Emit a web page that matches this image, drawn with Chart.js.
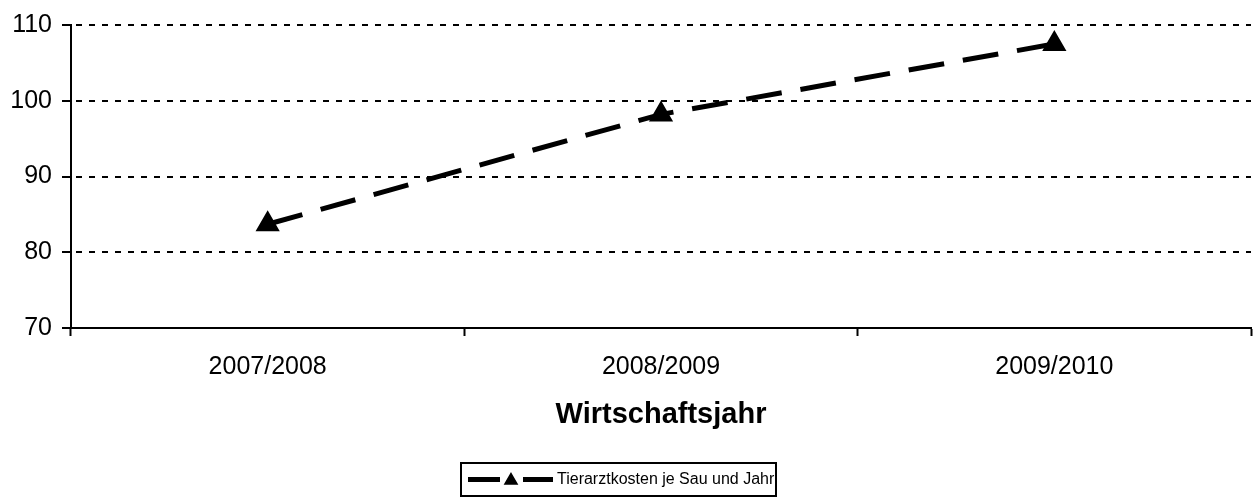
<!DOCTYPE html>
<html>
<head>
<meta charset="utf-8">
<script src="https://cdn.jsdelivr.net/npm/chart.js@4"></script>
<style>
html,body{margin:0;padding:0;background:#fff;}
#wrap{width:1253px;height:500px;position:relative;}
</style>
</head>
<body>
<div id="wrap"><canvas id="c" width="1253" height="500"></canvas></div>
<script>
const categories = ['2007/2008', '2008/2009', '2009/2010'];
const seriesName = 'Tierarztkosten je Sau und Jahr';
const seriesValues = [83.7, 98.2, 107.5];
const yTicks = [70, 80, 90, 100, 110];
const xTitle = 'Wirtschaftsjahr';

const FONT = "'Liberation Sans', Arial, sans-serif";

const boxLegend = {
  id: 'boxLegend',
  afterDraw(chart) {
    const ctx = chart.ctx;
    const ds = chart.data.datasets[0];
    const x0 = 461, y0 = 463, x1 = 776, y1 = 496;
    const cy = (y0 + y1) / 2;
    ctx.save();
    ctx.strokeStyle = '#000';
    ctx.lineWidth = 2;
    ctx.strokeRect(x0, y0, x1 - x0, y1 - y0);
    ctx.lineWidth = ds.borderWidth;
    ctx.strokeStyle = ds.borderColor;
    ctx.beginPath();
    ctx.moveTo(468, cy); ctx.lineTo(500, cy);
    ctx.moveTo(523, cy); ctx.lineTo(553, cy);
    ctx.stroke();
    const r = 7, mx = 511, my = cy + 1;
    ctx.fillStyle = ds.pointBackgroundColor;
    ctx.beginPath();
    ctx.moveTo(mx, my - r);
    ctx.lineTo(mx + r * 0.866, my + r * 0.5);
    ctx.lineTo(mx - r * 0.866, my + r * 0.5);
    ctx.closePath();
    ctx.fill();
    ctx.lineWidth = 1.5; ctx.stroke();
    ctx.fillStyle = '#000';
    ctx.font = '16px ' + FONT;
    ctx.textBaseline = 'middle';
    ctx.textAlign = 'left';
    ctx.fillText(ds.label, 557, cy);
    ctx.restore();
  }
};

new Chart(document.getElementById('c'), {
  type: 'line',
  data: {
    labels: categories,
    datasets: [{
      label: seriesName,
      data: seriesValues,
      borderColor: '#000',
      borderWidth: 5,
      borderDash: [36, 19],
      pointStyle: 'triangle',
      pointRadius: 12,
      pointHoverRadius: 12,
      pointBackgroundColor: '#000',
      pointBorderColor: '#000',
      pointBorderWidth: 2,
      tension: 0,
      fill: false
    }]
  },
  options: {
    responsive: false,
    animation: false,
    devicePixelRatio: 1,
    layout: { autoPadding: false, padding: { top: 23, right: 2, left: 0, bottom: 0 } },
    plugins: { legend: { display: false }, tooltip: { enabled: false } },
    scales: {
      x: {
        type: 'category',
        offset: true,
        grid: { display: true, offset: true, drawOnChartArea: false, drawTicks: true, tickLength: 8, tickWidth: 2, tickColor: '#000' },
        border: { display: true, color: '#000', width: 2 },
        ticks: { color: '#000', font: { family: FONT, size: 25 }, padding: 16, maxRotation: 0 },
        title: { display: true, text: xTitle, color: '#000', font: { family: FONT, size: 29, weight: 'bold' }, padding: { top: 0, bottom: 68 } },
        afterFit(scale) { scale.height = 172; scale.paddingLeft = 0; scale.paddingRight = 0; }
      },
      y: {
        min: 70, max: 110,
        afterBuildTicks(scale) { scale.ticks = yTicks.map(v => ({ value: v })); },
        grid: { color: '#000', lineWidth: 2, drawTicks: true, tickLength: 9, tickWidth: 2, tickColor: '#000' },
        border: { display: true, color: '#000', width: 2, dash: [6, 7], dashOffset: -4 },
        ticks: { color: '#000', font: { family: FONT, size: 25 }, padding: 10 },
        afterFit(scale) { scale.width = 71; }
      }
    }
  },
  plugins: [boxLegend]
});
</script>
</body>
</html>
